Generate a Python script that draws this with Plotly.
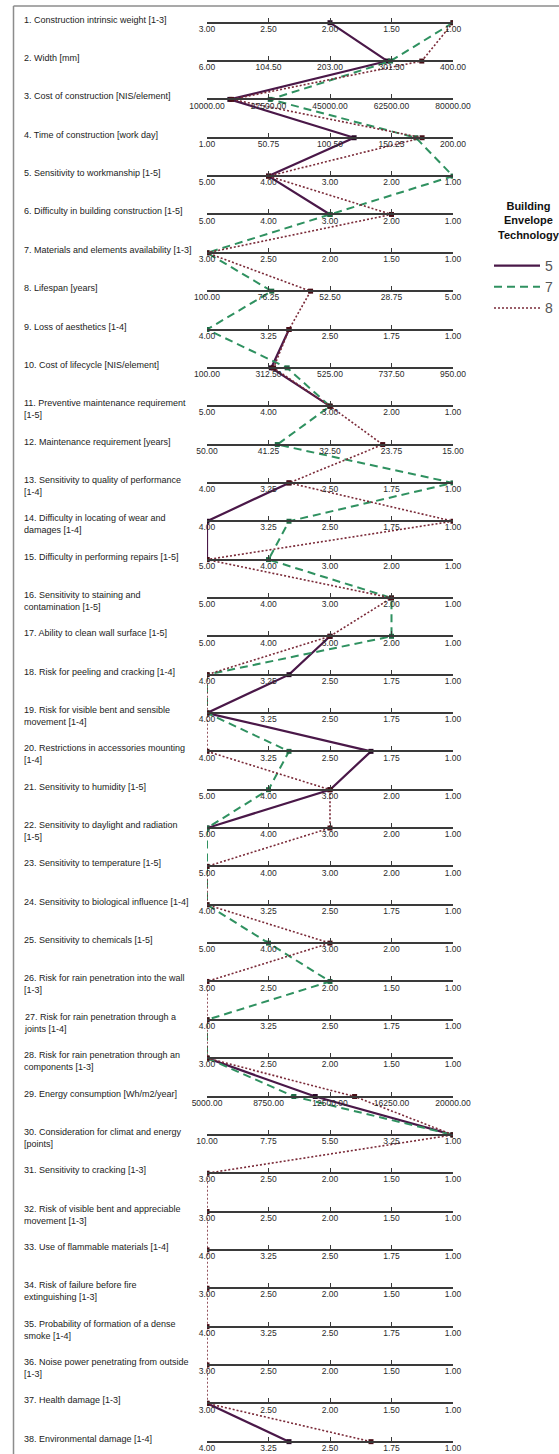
import numpy as np
import plotly.graph_objects as go

# Evaluation criteria, one horizontal axis each (top to bottom)
CRITERIA = [
    "1. Construction intrinsic weight [1-3]",
    "2. Width [mm]",
    "3. Cost of construction [NIS/element]",
    "4. Time of construction [work day]",
    "5. Sensitivity to workmanship [1-5]",
    "6. Difficulty in building construction [1-5]",
    "7. Materials and elements availability [1-3]",
    "8. Lifespan [years]",
    "9. Loss of aesthetics [1-4]",
    "10. Cost of lifecycle [NIS/element]",
    "11. Preventive maintenance requirement<br>[1-5]",
    "12. Maintenance requirement [years]",
    "13. Sensitivity to quality of performance<br>[1-4]",
    "14. Difficulty in locating of wear and<br>damages [1-4]",
    "15. Difficulty in performing repairs [1-5]",
    "16. Sensitivity to staining and<br>contamination [1-5]",
    "17. Ability to clean wall surface [1-5]",
    "18. Risk for peeling and cracking [1-4]",
    "19. Risk for visible bent and sensible<br>movement [1-4]",
    "20. Restrictions in accessories mounting<br>[1-4]",
    "21. Sensitivity to humidity [1-5]",
    "22. Sensitivity to daylight and radiation<br>[1-5]",
    "23. Sensitivity to temperature [1-5]",
    "24. Sensitivity to biological influence [1-4]",
    "25. Sensitivity to chemicals [1-5]",
    "26. Risk for rain penetration into the wall<br>[1-3]",
    "27. Risk for rain penetration through a<br>joints [1-4]",
    "28. Risk for rain penetration through an<br>components [1-3]",
    "29. Energy consumption [Wh/m2/year]",
    "30. Consideration for climat and energy<br>[points]",
    "31. Sensitivity to cracking [1-3]",
    "32. Risk of visible bent and appreciable<br>movement [1-3]",
    "33. Use of flammable materials [1-4]",
    "34. Risk of failure before fire<br>extinguishing [1-3]",
    "35. Probability of formation of a dense<br>smoke [1-4]",
    "36. Noise power penetrating from outside<br>[1-3]",
    "37. Health damage [1-3]",
    "38. Environmental damage [1-4]",
]

# Axis end values (left end, right end) per criterion
AXIS_LEFT = [3, 6, 10000, 1, 5, 5, 3, 100, 4, 100,
             5, 50, 4, 4, 5, 5, 5, 4, 4, 4,
             5, 5, 5, 4, 5, 3, 4, 3, 5000, 10,
             3, 3, 4, 3, 4, 3, 3, 4]
AXIS_RIGHT = [1, 400, 80000, 200, 1, 1, 1, 5, 1, 950,
              1, 15, 1, 1, 1, 1, 1, 1, 1, 1,
              1, 1, 1, 1, 1, 1, 1, 1, 20000, 1,
              1, 1, 1, 1, 1, 1, 1, 1]
N_TICKS = 5

# Scores of each building envelope technology (None = not assessed)
TECH_5 = [2, 295, 16500, 120, 4, 3, None, None, 3, 322,
          3, None, 3, 4, 5, None, 3, 3, 4, 2,
          3, 5, None, None, None, None, None, 3, 11600, 1,
          None, None, None, None, None, None, 3, 3]
TECH_7 = [1, 300, 28000, 170, 1, 3, 3, 75, 4, 377,
          3, 40, 1, 3, 4, 2, 2, 4, 4, 3,
          4, 5, 5, 4, 4, 2, 4, 3, 10300, 1,
          None, None, None, None, None, None, None, None]
TECH_8 = [1, 350, 17000, 175, 4, 2, 3, 60, 3, 330,
          3, 25, 3, 1, 5, 2, 3, 4, 4, 4,
          3, 3, 5, 4, 3, 3, 4, 3, 14000, 1,
          3, 3, 4, 3, 4, 3, 3, 2]

SERIES = [
    ("5", TECH_5, dict(color="#4a1848", width=2.2, dash="solid"), "#2a0a28"),
    ("7", TECH_7, dict(color="#2f9160", width=2, dash="8px,5px"), "#1f6b45"),
    ("8", TECH_8, dict(color="#7a2a38", width=1.6, dash="2px,2px"), "#4a1018"),
]

# ---- page geometry ----
W, H = 559, 1454
PLOT_L, PLOT_R = 207, 453
FIRST_ROW_PX = 22.7
ROW_PITCH = 38.35
n_rows = len(CRITERIA)
rows = np.arange(1, n_rows + 1)
y_top = 1 - FIRST_ROW_PX / ROW_PITCH
y_bottom = y_top + H / ROW_PITCH
plot_w = PLOT_R - PLOT_L


def px_to_paper_x(px):
    return (px - PLOT_L) / plot_w


def px_to_paper_y(py):
    return (H - py) / H


FONT = "Liberation Sans, Arial, sans-serif"

fig = go.Figure()
layout_axes = {}

# one free horizontal axis per criterion
for i in range(n_rows):
    name = f"xaxis{i + 2}"
    ref = f"x{i + 2}"
    ticks = np.linspace(AXIS_LEFT[i], AXIS_RIGHT[i], N_TICKS)
    layout_axes[name] = dict(
        overlaying="x", anchor="free",
        position=(y_bottom - rows[i]) / (y_bottom - y_top),
        range=[AXIS_LEFT[i], AXIS_RIGHT[i]],
        tickmode="array", tickvals=ticks, tickformat=".2f", tickangle=0,
        showline=True, linecolor="#3a3a3a", linewidth=2,
        ticks="inside", ticklen=4, tickwidth=1, tickcolor="#3a3a3a",
        ticklabelstandoff=-2,
        tickfont=dict(family=FONT, size=8.5, color="#2a2a2a"),
        showgrid=False, zeroline=False, side="bottom", fixedrange=True,
    )
    fig.add_trace(go.Scatter(
        x=[AXIS_LEFT[i]], y=[rows[i]], xaxis=ref, yaxis="y",
        mode="markers", marker=dict(opacity=0, size=1),
        hoverinfo="skip", showlegend=False))

# series polylines, each value placed along its criterion's axis
lo = np.array(AXIS_LEFT, dtype=float)
hi = np.array(AXIS_RIGHT, dtype=float)
for name, values, line, mcol in SERIES:
    v = np.array([np.nan if x is None else x for x in values], dtype=float)
    pos = (v - lo) / (hi - lo)
    xs = [None if np.isnan(p) else float(p) for p in pos]
    fig.add_trace(go.Scatter(
        x=xs, y=rows, mode="lines", name=name, line=line,
        connectgaps=False, hoverinfo="skip"))
    fig.add_trace(go.Scatter(
        x=xs, y=rows, mode="markers", showlegend=False,
        marker=dict(symbol="square", size=5, color=mcol),
        hoverinfo="skip"))

# criterion labels on the left
annotations = []
for i, label in enumerate(CRITERIA):
    annotations.append(dict(
        text=label, xref="paper", yref="y",
        x=px_to_paper_x(22), y=rows[i], xanchor="left", yanchor="top",
        yshift=10, align="left", showarrow=False,
        font=dict(family=FONT, size=9, color="#222")))

# legend heading
annotations.append(dict(
    text="<b>Building<br>Envelope<br>Technology</b>",
    xref="paper", yref="paper",
    x=px_to_paper_x(529), y=px_to_paper_y(198),
    xanchor="center", yanchor="top", align="center", showarrow=False,
    font=dict(family=FONT, size=11, color="#111")))

frame = dict(color="#8c8c8c", width=1.5)
fig.update_layout(
    width=W, height=H,
    margin=dict(l=PLOT_L, r=W - PLOT_R, t=0, b=0, pad=0),
    paper_bgcolor="white", plot_bgcolor="white",
    xaxis=dict(range=[0, 1], visible=False, fixedrange=True),
    yaxis=dict(range=[y_bottom, y_top], visible=False, fixedrange=True),
    showlegend=True,
    legend=dict(
        x=px_to_paper_x(489), xanchor="left",
        y=px_to_paper_y(250), yanchor="top",
        font=dict(family=FONT, size=14, color="#555"),
        bgcolor="rgba(0,0,0,0)", itemwidth=46, tracegroupgap=0),
    annotations=annotations,
    shapes=[
        dict(type="line", xref="paper", yref="paper",
             x0=px_to_paper_x(13.5), x1=px_to_paper_x(13.5),
             y0=px_to_paper_y(6), y1=px_to_paper_y(H + 5), line=frame),
        dict(type="line", xref="paper", yref="paper",
             x0=px_to_paper_x(13.5), x1=px_to_paper_x(W + 5),
             y0=px_to_paper_y(6), y1=px_to_paper_y(6), line=frame),
    ],
    hovermode=False,
    **layout_axes,
)

fig.write_html("out.html")
